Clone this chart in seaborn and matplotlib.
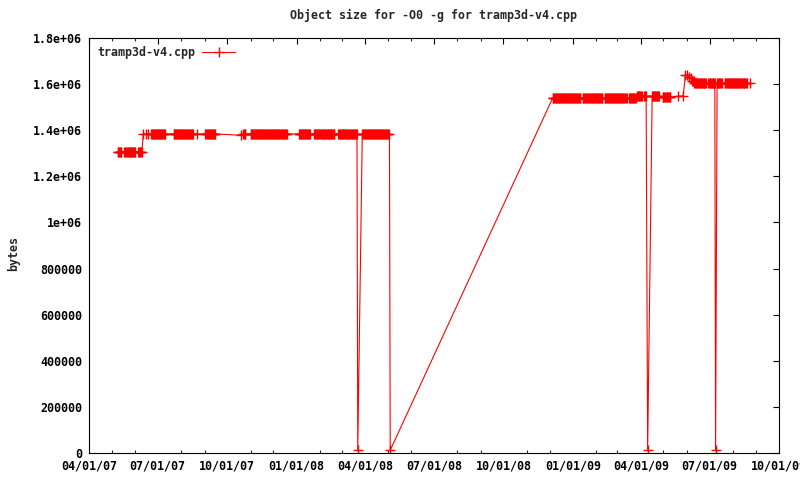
import matplotlib
matplotlib.use("Agg")
import matplotlib.pyplot as plt
import matplotlib.dates as mdates
import pandas as pd
import seaborn as sns

# ---- data ----
run_start = ["2007-05-09", "2007-05-18", "2007-06-05", "2007-06-12", "2007-06-15",
             "2007-06-18", "2007-06-22", "2007-07-22", "2007-08-22", "2007-09-02",
             "2007-10-20", "2007-10-22", "2007-11-01", "2008-01-04", "2008-01-24",
             "2008-02-25", "2008-03-22", "2008-03-28", "2008-05-03", "2008-05-04",
             "2008-12-05", "2009-01-14", "2009-02-12", "2009-03-16", "2009-03-27",
             "2009-04-05", "2009-04-10", "2009-04-16", "2009-04-30", "2009-05-20",
             "2009-05-27", "2009-05-30", "2009-06-01", "2009-06-04", "2009-06-06",
             "2009-06-08", "2009-06-11", "2009-06-29", "2009-07-09", "2009-07-11",
             "2009-07-21", "2009-08-20", "2009-08-24"]
run_end = ["2007-05-14", "2007-06-01", "2007-06-10", "2007-06-12", "2007-06-15",
           "2007-06-18", "2007-07-11", "2007-08-17", "2007-08-22", "2007-09-15",
           "2007-10-20", "2007-10-25", "2007-12-19", "2008-01-19", "2008-02-20",
           "2008-03-21", "2008-03-22", "2008-05-01", "2008-05-03", "2008-05-04",
           "2009-01-11", "2009-02-09", "2009-03-13", "2009-03-25", "2009-04-02",
           "2009-04-08", "2009-04-10", "2009-04-25", "2009-05-10", "2009-05-20",
           "2009-05-27", "2009-05-30", "2009-06-01", "2009-06-04", "2009-06-06",
           "2009-06-10", "2009-06-26", "2009-07-08", "2009-07-09", "2009-07-17",
           "2009-08-18", "2009-08-20", "2009-08-24"]
run_value = [1307000, 1307000, 1307000, 1384000, 1384000,
             1384000, 1384000, 1384000, 1384000, 1384000,
             1378000, 1384000, 1384000, 1384000, 1384000,
             1384000, 12000, 1384000, 1384000, 12000,
             1538000, 1538000, 1538000, 1538000, 1548000,
             1548000, 12000, 1548000, 1543000, 1548000,
             1548000, 1639000, 1639000, 1630000, 1625000,
             1615000, 1603000, 1603000, 12000, 1603000,
             1603000, 1603000, 1603000]

series_label = "tramp3d-v4.cpp"
title_text = "Object size for -O0 -g for tramp3d-v4.cpp"
y_ticks = [0, 200000, 400000, 600000, 800000, 1000000, 1200000, 1400000, 1600000, 1800000]
y_tick_labels = ["0", "200000", "400000", "600000", "800000",
                 "1e+06", "1.2e+06", "1.4e+06", "1.6e+06", "1.8e+06"]

# daily measurements: each run holds a constant size over consecutive days
rows = []
for s, e, v in zip(run_start, run_end, run_value):
    for d in pd.date_range(s, e, freq="D"):
        rows.append((d, v))
df = pd.DataFrame(rows, columns=["date", "bytes"])

# ---- style ----
sns.set_style("white")
plt.rcParams["font.family"] = ["DejaVu Sans Mono"]
plt.rcParams["font.weight"] = "bold"
FS = 8.4
RED = "#ff0000"

fig = plt.figure(figsize=(8, 4.8), dpi=100)
ax = fig.add_axes([89 / 800, 1 - 453 / 480, 690 / 800, 415 / 480])

sns.lineplot(data=df, x="date", y="bytes", sort=False, estimator=None,
             color=RED, marker="+", markersize=6.5, markeredgewidth=1.0,
             markeredgecolor=RED, markerfacecolor=RED,
             linewidth=0.8, label=series_label, ax=ax)

ax.set_xlim(pd.Timestamp("2007-04-01"), pd.Timestamp("2009-10-01"))
ax.set_ylim(0, 1800000)

ax.xaxis.set_major_locator(mdates.MonthLocator(bymonth=[1, 4, 7, 10]))
ax.xaxis.set_minor_locator(mdates.MonthLocator())
ax.xaxis.set_major_formatter(mdates.DateFormatter("%m/%d/%y"))
ax.set_yticks(y_ticks)
ax.set_yticklabels(y_tick_labels)

ax.tick_params(axis="both", which="major", direction="in", length=4, width=0.8,
               top=True, right=True, labelsize=FS, colors="black", pad=5)
ax.tick_params(axis="x", which="minor", direction="in", length=2.5, width=0.8,
               top=True, bottom=True)
for lab in ax.get_xticklabels() + ax.get_yticklabels():
    lab.set_fontweight("bold")
for sp in ax.spines.values():
    sp.set_visible(True)
    sp.set_color("black")
    sp.set_linewidth(0.8)

ax.set_xlabel("")
ax.set_ylabel("bytes", fontsize=FS, fontweight="bold")
ax.yaxis.set_label_coords(-0.1, 0.48)
ax.set_title(title_text, fontsize=FS, fontweight="bold", pad=14)

leg = ax.legend(loc="upper left", frameon=False, markerfirst=False,
                prop={"size": FS, "weight": "bold"},
                handlelength=2.8, handletextpad=0.6, borderaxespad=0.3,
                bbox_to_anchor=(0.0, 1.0))

fig.savefig("out.png", dpi=100)
